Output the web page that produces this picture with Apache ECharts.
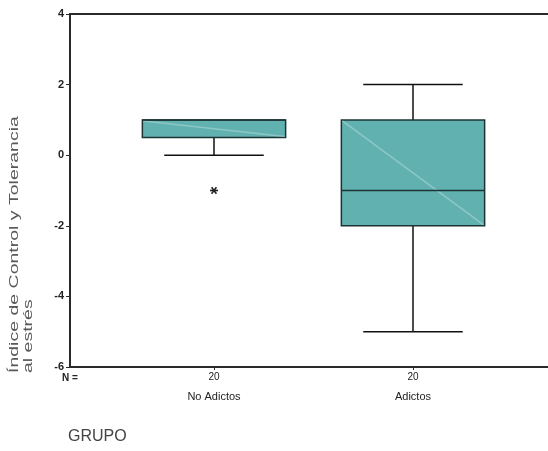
<!DOCTYPE html>
<html>
<head>
<meta charset="utf-8">
<script src="https://cdn.jsdelivr.net/npm/echarts@6/dist/echarts.min.js"></script>
<style>
html,body{margin:0;padding:0;background:#fff;}
#chart{width:548px;height:451px;}
</style>
</head>
<body>
<div id="chart"></div>
<script>
// ---- data ----
const categories = ['No Adictos', 'Adictos'];
const counts = [20, 20];
const lowerWhisker = [0, -5];
const q1Values = [0.5, -2];
const medianValues = [1, -1];
const q3Values = [1, 1];
const upperWhisker = [1, 2];
const outlierPoints = [[0, -1]]; // [category index, value]
const yTickValues = [-6, -4, -2, 0, 2, 4];
const yAxisTitle = 'Índice de Control y Tolerancia\nal estrés';
const xAxisTitle = 'GRUPO';
const nLabel = 'N =';

const boxData = categories.map((c, i) => [i, lowerWhisker[i], q1Values[i], medianValues[i], q3Values[i], upperWhisker[i]]);

const chart = echarts.init(document.getElementById('chart'), null, {renderer: 'canvas'});

const boxFill = '#62b1b1';
const boxStroke = '#1c3434';
const axisColor = '#2a2a2a';

function renderBox(params, api) {
  const x = api.value(0);
  const unit = api.size([1, 0])[0];
  const bw = unit * 0.72;
  const cw = unit * 0.5;
  const pLow = api.coord([x, api.value(1)]);
  const pQ1 = api.coord([x, api.value(2)]);
  const pMed = api.coord([x, api.value(3)]);
  const pQ3 = api.coord([x, api.value(4)]);
  const pHigh = api.coord([x, api.value(5)]);
  const cx = pQ1[0];
  const lineStyle = {stroke: '#111', lineWidth: 1.5};
  const children = [];
  if (pLow[1] !== pQ1[1]) {
    children.push({type: 'line', shape: {x1: cx, y1: pQ1[1], x2: cx, y2: pLow[1]}, style: lineStyle});
  }
  children.push({type: 'line', shape: {x1: cx - cw / 2, y1: pLow[1], x2: cx + cw / 2, y2: pLow[1]}, style: lineStyle});
  if (pHigh[1] !== pQ3[1]) {
    children.push({type: 'line', shape: {x1: cx, y1: pQ3[1], x2: cx, y2: pHigh[1]}, style: lineStyle});
    children.push({type: 'line', shape: {x1: cx - cw / 2, y1: pHigh[1], x2: cx + cw / 2, y2: pHigh[1]}, style: lineStyle});
  }
  children.push({type: 'rect', shape: {x: cx - bw / 2, y: pQ3[1], width: bw, height: pQ1[1] - pQ3[1]},
    style: {fill: boxFill, stroke: boxStroke, lineWidth: 1.5}});
  children.push({type: 'line', shape: {x1: cx - bw / 2 + 1, y1: pQ3[1] + 1, x2: cx + bw / 2 - 1, y2: pQ1[1] - 1},
    style: {stroke: 'rgba(255,255,255,0.28)', lineWidth: 1.5}});
  children.push({type: 'line', shape: {x1: cx - bw / 2, y1: pMed[1], x2: cx + bw / 2, y2: pMed[1]},
    style: {stroke: boxStroke, lineWidth: 1.5}});
  return {type: 'group', children};
}

function renderOutlier(params, api) {
  const p = api.coord([api.value(0), api.value(1)]);
  const r = 4;
  const st = {stroke: '#222', lineWidth: 1.6};
  return {type: 'group', children: [
    {type: 'line', shape: {x1: p[0] - r, y1: p[1], x2: p[0] + r, y2: p[1]}, style: st},
    {type: 'line', shape: {x1: p[0] - r * 0.6, y1: p[1] - r * 0.8, x2: p[0] + r * 0.6, y2: p[1] + r * 0.8}, style: st},
    {type: 'line', shape: {x1: p[0] + r * 0.6, y1: p[1] - r * 0.8, x2: p[0] - r * 0.6, y2: p[1] + r * 0.8}, style: st}
  ]};
}

const gridLeft = 70, gridWidth = 478;
const firstCenter = 214, spacing = 199;
const xMin = -(firstCenter - gridLeft) / spacing;
const xMax = xMin + gridWidth / spacing;

const option = {
  animation: false,
  backgroundColor: '#fff',
  grid: {left: gridLeft, right: 0, top: 14, bottom: 84},
  xAxis: [{
    type: 'value', min: xMin, max: xMax,
    splitLine: {show: false},
    axisLine: {show: true, onZero: false, lineStyle: {color: axisColor, width: 2}},
    axisTick: {show: true, customValues: categories.map((c, i) => i), length: 3, lineStyle: {color: axisColor}},
    axisLabel: {
      show: true, customValues: categories.map((c, i) => i), margin: 4,
      formatter: v => '{n|' + counts[Math.round(v)] + '}\n{c|' + categories[Math.round(v)] + '}',
      rich: {
        n: {fontFamily: 'Liberation Sans', fontSize: 10, color: '#222', lineHeight: 12},
        c: {fontFamily: 'Liberation Sans', fontSize: 11, color: '#222', lineHeight: 28}
      }
    }
  }, {
    type: 'value', position: 'top', min: xMin, max: xMax,
    splitLine: {show: false}, axisTick: {show: false}, axisLabel: {show: false},
    axisLine: {show: true, onZero: false, lineStyle: {color: axisColor, width: 2}}
  }],
  yAxis: {
    type: 'value', min: -6, max: 4, interval: 2,
    splitLine: {show: false},
    axisLine: {show: true, onZero: false, lineStyle: {color: axisColor, width: 2}},
    axisTick: {show: true, length: 4, lineStyle: {color: axisColor}},
    axisLabel: {margin: 6, fontFamily: 'Liberation Sans', fontSize: 11, fontWeight: 'bold', color: '#222',
      customValues: yTickValues}
  },
  title: [
    {text: nLabel, left: 62, top: 373, padding: 0, textStyle: {fontFamily: 'Liberation Sans', fontSize: 10, fontWeight: 'bold', color: '#222'}},
    {text: xAxisTitle, left: 68, top: 429, padding: 0, textStyle: {fontFamily: 'Liberation Sans', fontSize: 16, fontWeight: 'normal', color: '#444'}}
  ],
  graphic: [{
    type: 'text', rotation: Math.PI / 2, x: 7, y: 373, scaleX: 1.5, scaleY: 1,
    style: {text: yAxisTitle, fontFamily: 'Liberation Sans', fontSize: 13, fill: '#5a5a5a', align: 'left', verticalAlign: 'top', lineHeight: 14}
  }],
  series: [{
    type: 'custom', renderItem: renderBox, data: boxData,
    encode: {x: 0, y: [1, 2, 3, 4, 5]}, z: 3
  }, {
    type: 'custom', renderItem: renderOutlier, data: outlierPoints,
    encode: {x: 0, y: 1}, z: 4
  }]
};
chart.setOption(option);
</script>
</body>
</html>
